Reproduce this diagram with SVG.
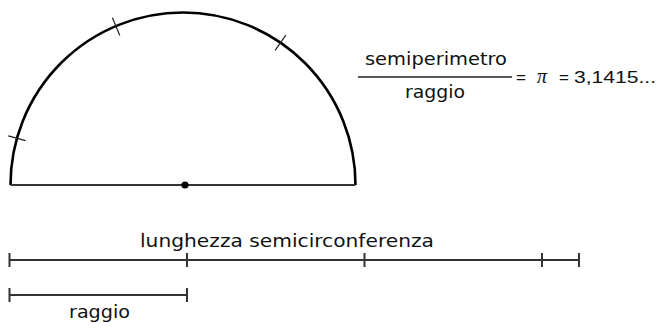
<svg xmlns="http://www.w3.org/2000/svg" width="668" height="328" viewBox="0 0 668 328">
<style>
.t{font-family:"DejaVu Sans","Liberation Sans",sans-serif;font-size:18px;fill:#111}
.n{font-family:"Liberation Sans",sans-serif;font-size:17px;fill:#111}
.tick{stroke:#222;stroke-width:1.2;fill:none}
.rul{stroke:#333;stroke-width:2;fill:none}
</style>
<rect width="668" height="328" fill="#fff"/>
<g id="semicircle">
<path d="M10.5 185 A172.5 172.5 0 0 1 355.5 185" fill="none" stroke="#000" stroke-width="2.6"/>
<line x1="10.5" y1="185" x2="355.5" y2="185" stroke="#333" stroke-width="2"/>
<circle cx="185" cy="185" r="3.6" fill="#000"/>
<line class="tick" x1="8.2" y1="135.9" x2="25.6" y2="140.7"/>
<line class="tick" x1="112.4" y1="17.8" x2="119.8" y2="35.4"/>
<line class="tick" x1="285.8" y1="35.1" x2="275.1" y2="50.4"/>
</g>
<g id="formula">
<text class="t" x="365" y="65" textLength="142" lengthAdjust="spacingAndGlyphs">semiperimetro</text>
<line x1="358" y1="77" x2="512" y2="77" stroke="#222" stroke-width="1.6"/>
<text class="t" x="405" y="98" textLength="60" lengthAdjust="spacingAndGlyphs">raggio</text>
<text class="n" x="516" y="83">=</text>
<text x="537" y="83" font-family="Liberation Serif,serif" font-style="italic" font-size="20" fill="#111">π</text>
<text class="n" x="559" y="83">=</text>
<text class="n" x="574" y="83" textLength="82" lengthAdjust="spacingAndGlyphs">3,1415...</text>
</g>
<g id="ruler-semicirconferenza">
<text class="t" x="140" y="247" textLength="294" lengthAdjust="spacingAndGlyphs">lunghezza semicirconferenza</text>
<line class="rul" x1="9.5" y1="260" x2="579" y2="260"/>
<line class="rul" x1="9.5" y1="253" x2="9.5" y2="267"/>
<line class="rul" x1="187" y1="253" x2="187" y2="267"/>
<line class="rul" x1="364.5" y1="253" x2="364.5" y2="267"/>
<line class="rul" x1="542" y1="253" x2="542" y2="267"/>
<line class="rul" x1="579" y1="253" x2="579" y2="267"/>
</g>
<g id="ruler-raggio">
<line class="rul" x1="9.5" y1="295" x2="187" y2="295"/>
<line class="rul" x1="9.5" y1="288" x2="9.5" y2="302"/>
<line class="rul" x1="187" y1="288" x2="187" y2="302"/>
<text class="t" x="69" y="318" textLength="61" lengthAdjust="spacingAndGlyphs">raggio</text>
</g>
</svg>
